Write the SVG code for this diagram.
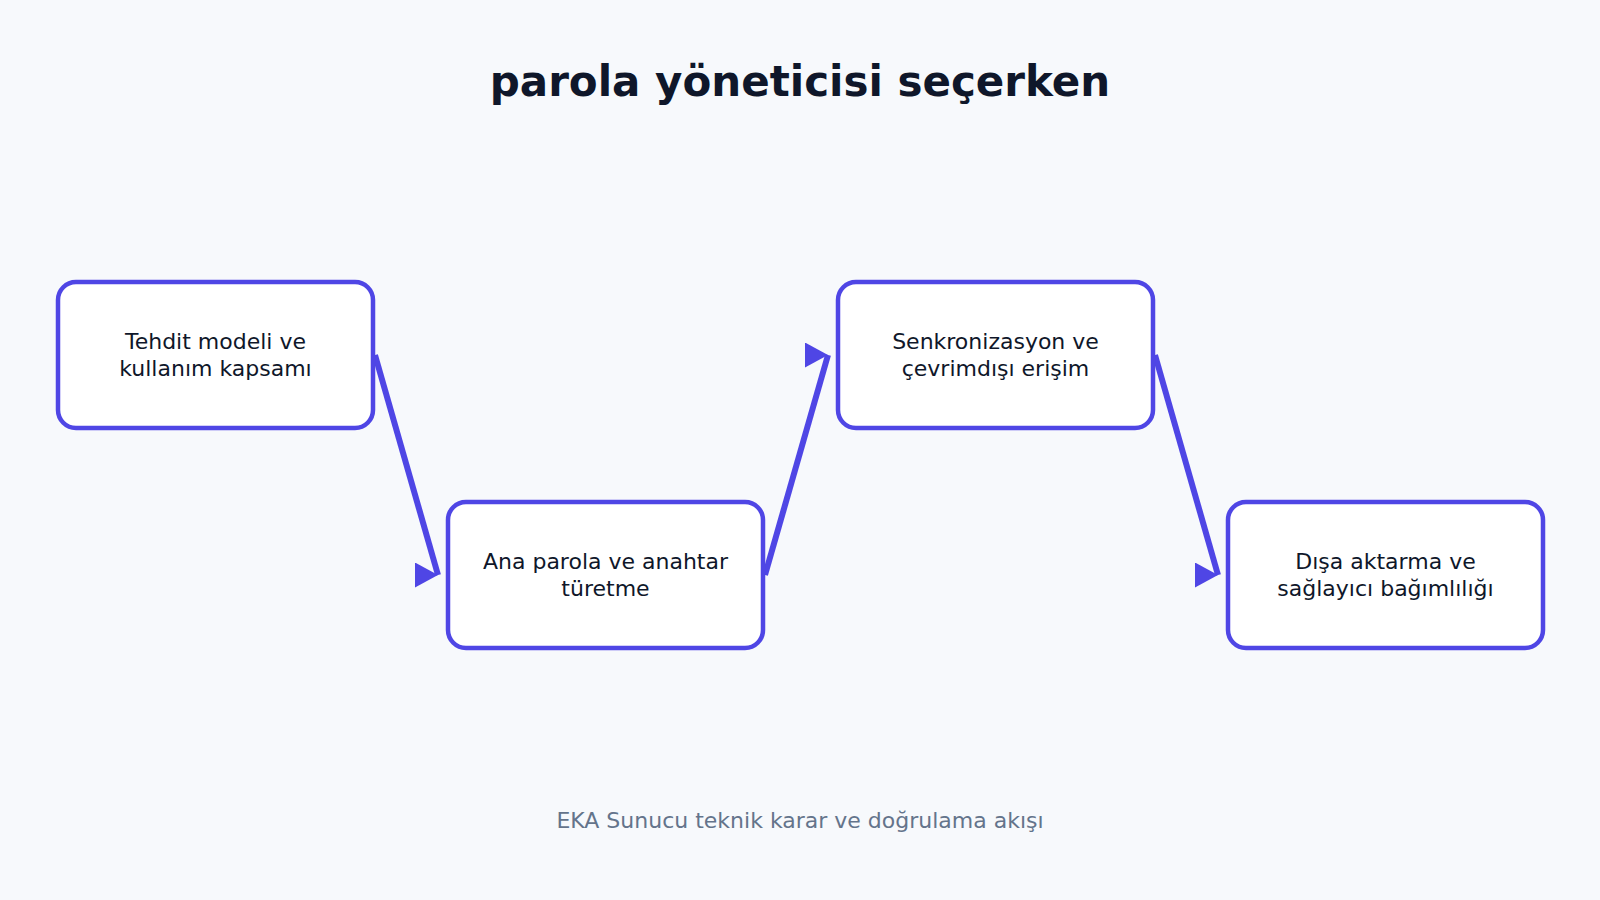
<svg xmlns="http://www.w3.org/2000/svg" width="1600" height="900" viewBox="0 0 1600 900">
  <style>
    .bg { fill: #f7f9fc; }
    .title { font-family: "DejaVu Sans", sans-serif; font-size: 42px; font-weight: bold; fill: #0f172a; text-anchor: middle; }
    .footer { font-family: "DejaVu Sans", sans-serif; font-size: 22px; fill: #64748b; text-anchor: middle; }
    .node rect { fill: #ffffff; stroke: #4f46e5; stroke-width: 4.5; }
    .node text { font-family: "DejaVu Sans", sans-serif; font-size: 22px; fill: #0f172a; text-anchor: middle; }
    .edge { fill: none; stroke: #4f46e5; stroke-width: 6; marker-end: url(#arrow); }
  </style>
  <defs>
    <marker id="arrow" markerUnits="userSpaceOnUse" markerWidth="24" markerHeight="26" refX="23" refY="12.5" orient="0">
      <path d="M0,0 L23,12.5 L0,25 Z" fill="#4f46e5"/>
    </marker>
  </defs>
  <rect class="bg" x="0" y="0" width="1600" height="900"/>
  <text class="title" x="800" y="96">parola yöneticisi seçerken</text>

  <g id="connectors">
    <line class="edge" x1="375" y1="355" x2="438" y2="575"/>
    <line class="edge" x1="765" y1="575" x2="828" y2="355"/>
    <line class="edge" x1="1155" y1="355" x2="1218" y2="575"/>
  </g>

  <g id="node1" class="node">
    <rect x="58" y="282" width="315" height="146" rx="18" ry="18"/>
    <text x="215.5" y="349">Tehdit modeli ve</text>
    <text x="215.5" y="376">kullanım kapsamı</text>
  </g>
  <g id="node2" class="node">
    <rect x="448" y="502" width="315" height="146" rx="18" ry="18"/>
    <text x="605.5" y="569">Ana parola ve anahtar</text>
    <text x="605.5" y="596">türetme</text>
  </g>
  <g id="node3" class="node">
    <rect x="838" y="282" width="315" height="146" rx="18" ry="18"/>
    <text x="995.5" y="349">Senkronizasyon ve</text>
    <text x="995.5" y="376">çevrimdışı erişim</text>
  </g>
  <g id="node4" class="node">
    <rect x="1228" y="502" width="315" height="146" rx="18" ry="18"/>
    <text x="1385.5" y="569">Dışa aktarma ve</text>
    <text x="1385.5" y="596">sağlayıcı bağımlılığı</text>
  </g>

  <text class="footer" x="800" y="828">EKA Sunucu teknik karar ve doğrulama akışı</text>
</svg>
